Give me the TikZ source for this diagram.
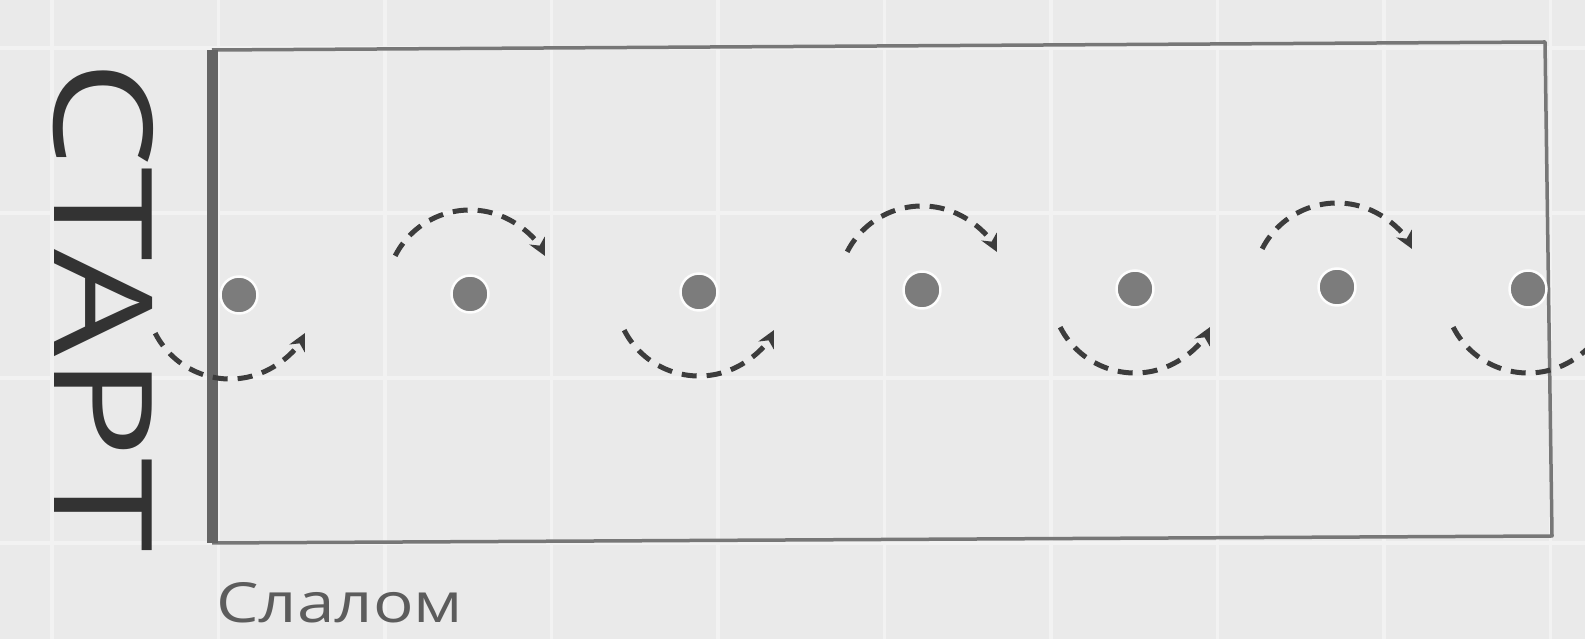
\documentclass[tikz,border=0pt]{standalone}
\usepackage{fontspec}
\setmainfont{Open Sans}
\usepackage{graphicx}
\usetikzlibrary{arrows.meta}
\definecolor{paper}{HTML}{EAEAEA}
\definecolor{gridLine}{HTML}{F2F2F2}
\definecolor{frameGray}{HTML}{777777}
\definecolor{coneGray}{HTML}{7C7C7C}
\definecolor{runGray}{HTML}{3C3C3C}
\definecolor{textDark}{HTML}{333333}

\begin{document}
\begin{tikzpicture}[x=1pt, y=1pt,
  gridln/.style={gridLine, line width=3.5pt},
  field/.style={frameGray, line width=3.5pt, line join=round},
  startln/.style={frameGray!85!black, line width=11pt},
  cone/.style={circle, fill=coneGray, draw=white!90!paper, line width=2.5pt, minimum size=37pt, inner sep=0pt},
  run/.style={runGray, line width=5pt, dash pattern=on 15pt off 10pt, -{Stealth[length=17pt,width=17pt]}}]
\useasboundingbox (0,0) rectangle (1585,639);
\clip (0,0) rectangle (1585,639);
\fill[paper] (0,0) rectangle (1585,639);
\foreach \gx in {0,...,9} \draw[gridln] ({52+166.5*\gx},0) -- ++(0,639);
\foreach \gy in {591,426,261,96} \draw[gridln] (0,\gy) -- ++(1585,0);
\coordinate (tl) at (212,589);
\coordinate (tr) at (1545,597);
\coordinate (br) at (1552,103);
\coordinate (bl) at (212,96);
\draw[field] (tl) -- (tr) -- (br) -- (bl);
\draw[startln] (bl) -- (tl);
\node[cone] (c1) at (239,344) {};
\node[cone] (c2) at (470,345) {};
\node[cone] (c3) at (699,347) {};
\node[cone] (c4) at (922,349) {};
\node[cone] (c5) at (1135,350) {};
\node[cone] (c6) at (1337,352) {};
\node[cone] (c7) at (1528,350) {};
\draw[run] ([shift={(207:84)},xshift=-9pt]c1.center) arc[start angle=207, end angle=333, radius=84pt];
\draw[run] ([shift={(153:84)}]c2.center) arc[start angle=153, end angle=27, radius=84pt];
\draw[run] ([shift={(207:84)}]c3.center) arc[start angle=207, end angle=333, radius=84pt];
\draw[run] ([shift={(153:84)}]c4.center) arc[start angle=153, end angle=27, radius=84pt];
\draw[run] ([shift={(207:84)}]c5.center) arc[start angle=207, end angle=333, radius=84pt];
\draw[run] ([shift={(153:84)}]c6.center) arc[start angle=153, end angle=27, radius=84pt];
\draw[run] ([shift={(207:84)}]c7.center) arc[start angle=207, end angle=345, radius=84pt];
\node[rotate=-90, inner sep=0pt, textDark] (start) at (103.5,332.5) {\resizebox{491pt}{99pt}{СТАРТ}};
\node[anchor=base west, inner sep=0pt, textDark!80!white] (title) at (216,16) {\resizebox{247pt}{40pt}{Слалом}};
\end{tikzpicture}
\end{document}
